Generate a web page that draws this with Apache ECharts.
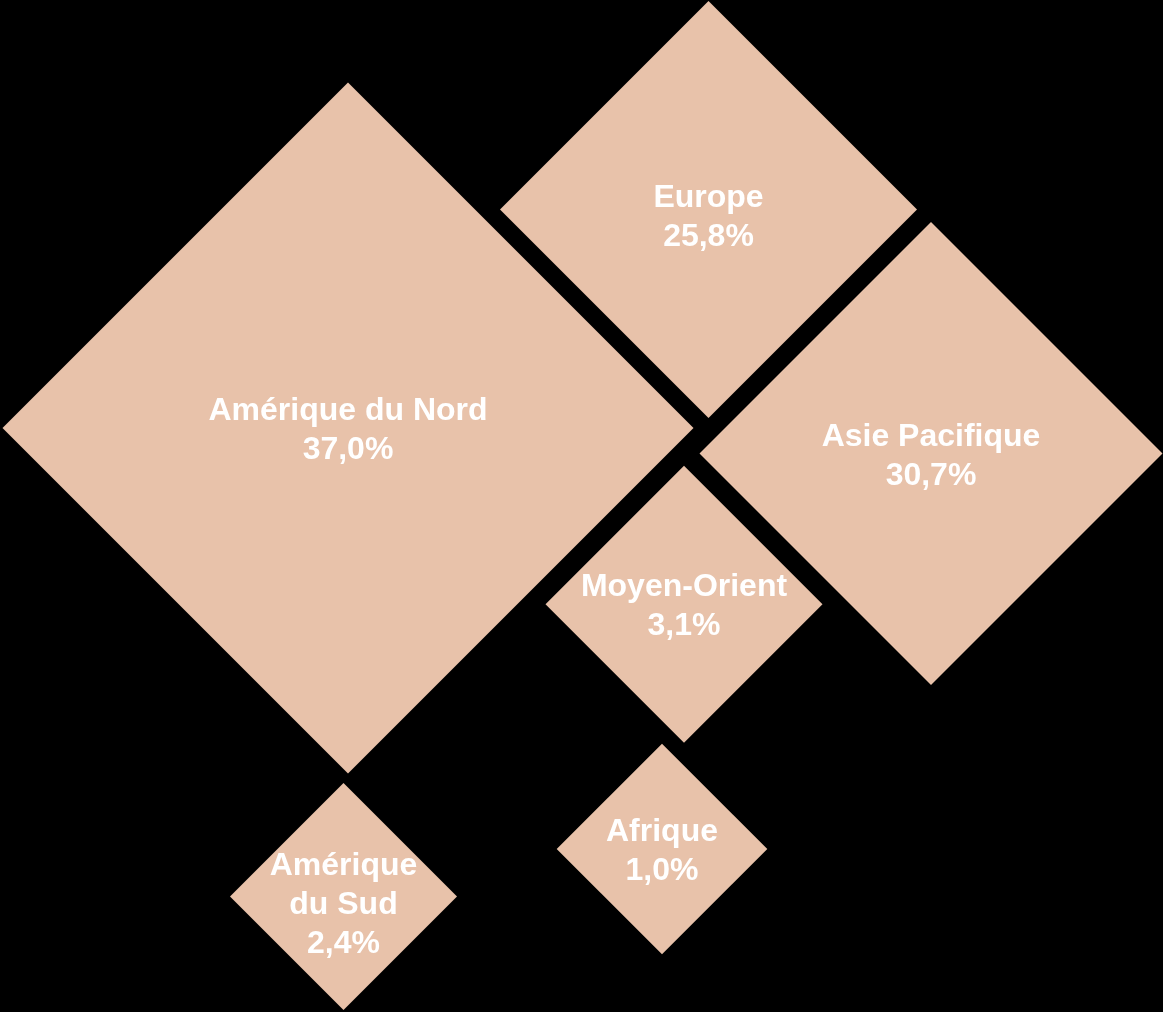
<!DOCTYPE html>
<html>
<head>
<meta charset="utf-8">
<script src="https://cdn.jsdelivr.net/npm/echarts@6/dist/echarts.min.js"></script>
<style>
  html, body { margin: 0; padding: 0; background: #000; }
  #main { width: 1163px; height: 1012px; }
</style>
</head>
<body>
<div id="main"></div>
<script>
// régions et parts (%)
var regions = ["Amérique du Nord", "Europe", "Asie Pacifique", "Moyen-Orient", "Afrique", "Amérique\ndu Sud"];
var shares = [37.0, 25.8, 30.7, 3.1, 1.0, 2.4];

// disposition des losanges (unités des axes cachés)
var centerX = [348, 708.5, 931, 684, 662, 343.5];
var centerY = [428, 209.5, 453.5, 604.3, 849, 896.5];
var halfSize = [345.5, 208.5, 231.5, 138.5, 105.3, 113.5];
var labelY = [431, 218, 456.5, 606.5, 851.5, 905];

var fillColor = "#E8C2AA";

var chart = echarts.init(document.getElementById("main"), null, { renderer: "canvas" });

var seriesData = [];
for (var i = 0; i < regions.length; i++) {
  seriesData.push([centerX[i], centerY[i], halfSize[i], labelY[i], shares[i]]);
}

var option = {
  backgroundColor: "#000000",
  animation: false,
  grid: { left: 0, right: 0, top: 0, bottom: 0 },
  xAxis: { type: "value", min: 0, max: 1163, show: false },
  yAxis: { type: "value", min: 0, max: 1012, inverse: true, show: false },
  series: [
    {
      type: "custom",
      clip: false,
      data: seriesData,
      renderItem: function (params, api) {
        var c = api.coord([api.value(0), api.value(1)]);
        var s = api.size([api.value(2), api.value(2)]);
        var ly = api.coord([api.value(0), api.value(3)])[1];
        var hx = s[0], hy = s[1];
        var txt = regions[params.dataIndex] + "\n" + api.value(4).toFixed(1).replace(".", ",") + "%";
        return {
          type: "group",
          children: [
            {
              type: "polygon",
              shape: {
                points: [
                  [c[0], c[1] - hy],
                  [c[0] + hx, c[1]],
                  [c[0], c[1] + hy],
                  [c[0] - hx, c[1]],
                ],
              },
              style: { fill: fillColor },
            },
            {
              type: "text",
              x: c[0],
              y: ly,
              style: {
                text: txt,
                fill: "#ffffff",
                fontFamily: "Arial, 'Liberation Sans', sans-serif",
                fontWeight: "bold",
                fontSize: 32,
                lineHeight: 39,
                align: "center",
                verticalAlign: "middle",
              },
            },
          ],
        };
      },
    },
  ],
};

chart.setOption(option);
</script>
</body>
</html>
